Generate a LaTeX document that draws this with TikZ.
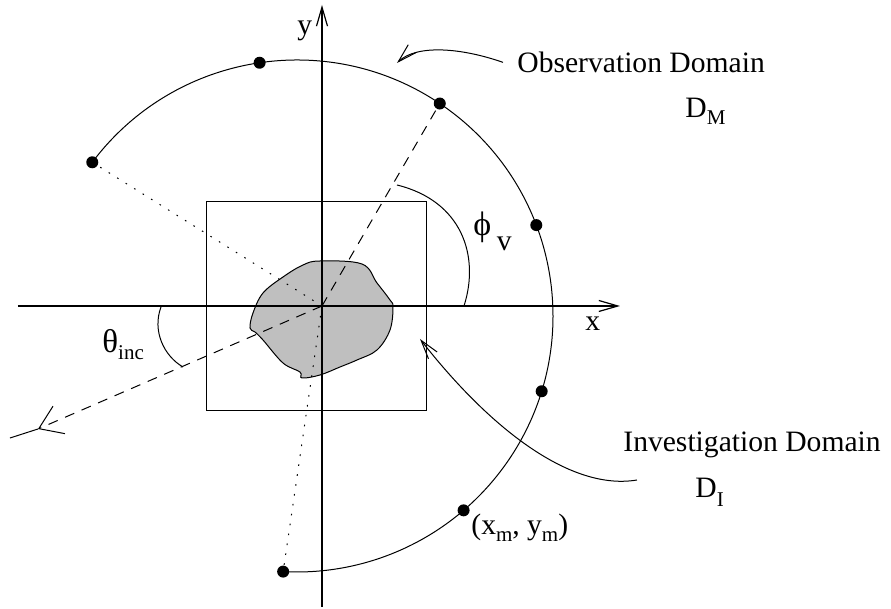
\documentclass[tikz,border=0pt]{standalone}
\usepackage{fontspec}
\setmainfont{Liberation Serif}
\usetikzlibrary{arrows.meta,positioning}
\newcommand{\lsub}[2][3.5pt]{\raisebox{-#1}{\fontsize{10.5}{12}\selectfont #2}}
\tikzset{
  >={Straight Barb[length=9.5pt,width=5.5pt]},
  axis/.style={->,line width=0.6pt},
  probe/.style={circle,fill=black,inner sep=0pt,minimum size=6pt},
  lbl/.style={inner sep=0pt,anchor=base west,font=\fontsize{14.8}{18}\selectfont},
  pointer/.style={line width=0.5pt},
  viewline/.style={line width=0.5pt,dash pattern=on 5pt off 4pt},
  probeline/.style={line width=0.5pt,dash pattern=on 0.8pt off 4.2pt},
}

\begin{document}
\begin{tikzpicture}[x=0.5pt,y=0.5pt]
    \useasboundingbox (-322,-303) rectangle (569,306);

    \coordinate (O)   at (0,0);
    \coordinate (C)   at (-25,-10);
    \coordinate (xL)  at (-304,0);
    \coordinate (xR)  at (298,0);
    \coordinate (yB)  at (0,-301);
    \coordinate (yT)  at (0,301);
    \coordinate (inc) at (-284,-123);
    \coordinate (incEnd) at (-312,-132);
    \coordinate (obsTip) at (75,243);
    \coordinate (invTail) at (315,-174);
    \coordinate (invTip)  at (98,-33);

    \filldraw[fill=black!25,line width=0.5pt] plot[smooth cycle,tension=0.6] coordinates {
      (-2,45) (40,42) (55,23) (68,6) (71,-1) (68,-24) (55,-44) (35,-54)
      (18,-61) (-2,-69) (-20,-72) (-22,-66) (-39,-57) (-59,-34) (-67,-26)
      (-72,-22) (-69,-7) (-59,13) (-39,29) (-19,41)};

    \node[draw,line width=0.5pt,inner sep=0pt,minimum width=110pt,minimum height=104.5pt]
      (invDom) at (-5,-0.5) {};

    \draw[axis] (xL) -- (xR);
    \draw[axis] (yB) -- (yT);

    \foreach \a/\n in {98.4/p1,56.1/p2,20.8/p3,-17.1/p4,-49.4/p5,-93.1/p6,143.1/p7}
      \node[probe] (\n) at ([shift={(\a:256)}]C) {};
    \draw[pointer] (p7.center) arc[start angle=143.1,end angle=-93.1,radius=256];

    \draw[probeline] (O) -- (p7);
    \draw[probeline] (O) -- (p6);
    \draw[viewline] (O) -- (p2);
    \draw[viewline,-{Straight Barb[length=11pt,width=15pt]}] (O) -- (inc);
    \draw[pointer] (inc) -- (incEnd);

    \draw[pointer] (-161,-1) .. controls (-170,-25) and (-158,-50) .. (-139,-61);
    \draw[pointer] (142,0) .. controls (158,50) and (140,105) .. (75,121);

    \node[lbl] (yLab)   at (-25,271)   {y};
    \node[lbl] (xLab)   at (263,-25)   {x};
    \node[lbl] (obsLab) at (195,233.5) {Observation Domain};
    \node[lbl] (dmLab)  at (363,188)   {D\lsub{M}};
    \node[lbl] (invLab) at (301,-146)  {Investigation Domain};
    \node[lbl] (diLab)  at (373,-192)  {D\lsub[4.5pt]{I}};
    \node[lbl] (xmLab)  at (149,-229)  {(x\lsub{m}, y\lsub{m})};
    \node[lbl] (thLab)  at (-220,-47)  {\fontsize{16.5}{18}\selectfont θ\lsub{inc}};
    \node[lbl] (phLab)  at (151,70)    {\fontsize{17}{20}\selectfont ϕ\,\raisebox{-7.5pt}{\fontsize{14.8}{18}\selectfont v}};

    \draw[pointer,->] ([xshift=-7pt]obsLab.west) .. controls (140,258) and (95,262) .. (obsTip);
    \draw[pointer,->] (invTail) .. controls (250,-185) and (170,-125) .. (invTip);
  \end{tikzpicture}
\end{document}
